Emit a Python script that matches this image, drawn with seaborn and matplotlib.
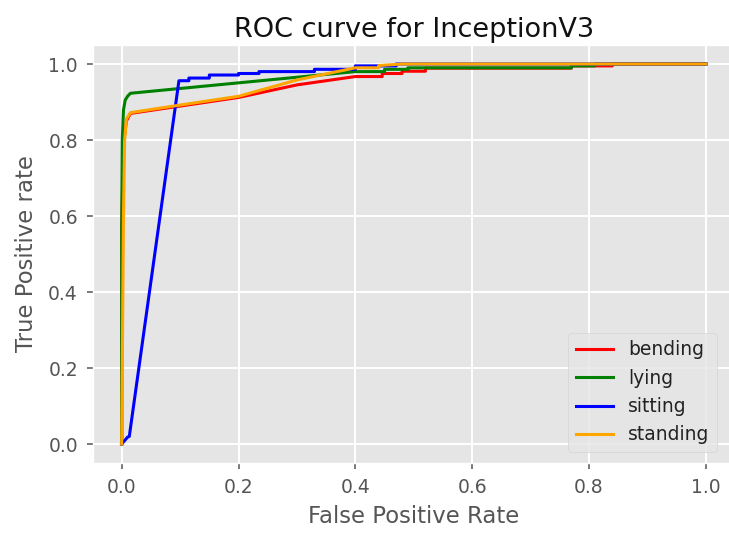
import matplotlib
matplotlib.use("Agg")
import matplotlib.pyplot as plt
import seaborn as sns
import pandas as pd

# ROC operating points per activity class (false positive rate, true positive rate)
bending_fpr = [0.0, 0.0, 0.002, 0.004, 0.008, 0.015, 0.200, 0.300, 0.400, 0.446, 0.446,
               0.480, 0.480, 0.520, 0.520, 0.770, 0.770, 0.840, 0.840, 1.0]
bending_tpr = [0.0, 0.560, 0.720, 0.800, 0.850, 0.870, 0.912, 0.945, 0.967, 0.967, 0.975,
               0.975, 0.981, 0.981, 0.989, 0.989, 0.995, 0.995, 1.0, 1.0]

lying_fpr = [0.0, 0.0, 0.001, 0.003, 0.006, 0.010, 0.015, 0.400, 0.450, 0.450,
             0.490, 0.490, 0.770, 0.770, 0.810, 0.810, 1.0]
lying_tpr = [0.0, 0.570, 0.800, 0.879, 0.905, 0.915, 0.923, 0.980, 0.980, 0.986,
             0.986, 0.990, 0.990, 0.995, 0.995, 1.0, 1.0]

sitting_fpr = [0.0, 0.010, 0.013, 0.098, 0.115, 0.115, 0.150, 0.150, 0.200, 0.200,
               0.235, 0.235, 0.330, 0.330, 0.400, 0.400, 0.470, 0.470, 1.0]
sitting_tpr = [0.0, 0.018, 0.020, 0.956, 0.956, 0.963, 0.963, 0.971, 0.971, 0.975,
               0.975, 0.980, 0.980, 0.986, 0.986, 0.995, 0.995, 1.0, 1.0]

standing_fpr = [0.0, 0.003, 0.005, 0.008, 0.015, 0.100, 0.200, 0.300, 0.400, 0.440,
                0.440, 0.480, 1.0]
standing_tpr = [0.0, 0.600, 0.800, 0.855, 0.872, 0.892, 0.915, 0.958, 0.990, 0.990,
                0.996, 1.0, 1.0]

classes = ["bending", "lying", "sitting", "standing"]
colors = ["red", "green", "blue", "orange"]
curves = {
    "bending": (bending_fpr, bending_tpr),
    "lying": (lying_fpr, lying_tpr),
    "sitting": (sitting_fpr, sitting_tpr),
    "standing": (standing_fpr, standing_tpr),
}

plt.style.use("ggplot")
plt.rcParams["font.family"] = ["DejaVu Sans"]

W, H = 729, 534
fig = plt.figure(figsize=(W / 100, H / 100), dpi=100)
# plot area runs slightly past the right edge of the canvas
ax = fig.add_axes([92.5 / W, (H - 463) / H, (735 - 92.5) / W, (463 - 45) / H])

for name, color in zip(classes, colors):
    fpr, tpr = curves[name]
    df = pd.DataFrame({"fpr": fpr, "tpr": tpr})
    sns.lineplot(data=df, x="fpr", y="tpr", sort=False, estimator=None,
                 color=color, linewidth=2.2, label=name, ax=ax)

ax.set_xlim(-0.05, 1.05)
ax.set_ylim(-0.05, 1.05)
ax.set_xticks([0.0, 0.2, 0.4, 0.6, 0.8, 1.0])
ax.set_yticks([0.0, 0.2, 0.4, 0.6, 0.8, 1.0])
ax.grid(True, color="white", linewidth=1.4)
ax.tick_params(axis="both", labelsize=13.5, colors="#555555", length=4.5,
               width=1.1, pad=6)

ax.set_title("ROC curve for InceptionV3", fontsize=19.5, color="#111111", pad=6)
ax.set_xlabel("False Positive Rate", fontsize=16.4, color="#555555", labelpad=6)
ax.set_ylabel("True Positive rate", fontsize=16.4, color="#555555", labelpad=7)

leg = ax.legend(loc="lower right", bbox_to_anchor=(717 / W, (H - 452) / H),
                bbox_transform=fig.transFigure, borderaxespad=0,
                fontsize=13.5, facecolor="#E5E5E5", edgecolor="#D0D0D0",
                handlelength=2.0)
for text in leg.get_texts():
    text.set_color("#222222")
for line in leg.get_lines():
    line.set_linewidth(2.2)

fig.savefig("out.png", dpi=100)
